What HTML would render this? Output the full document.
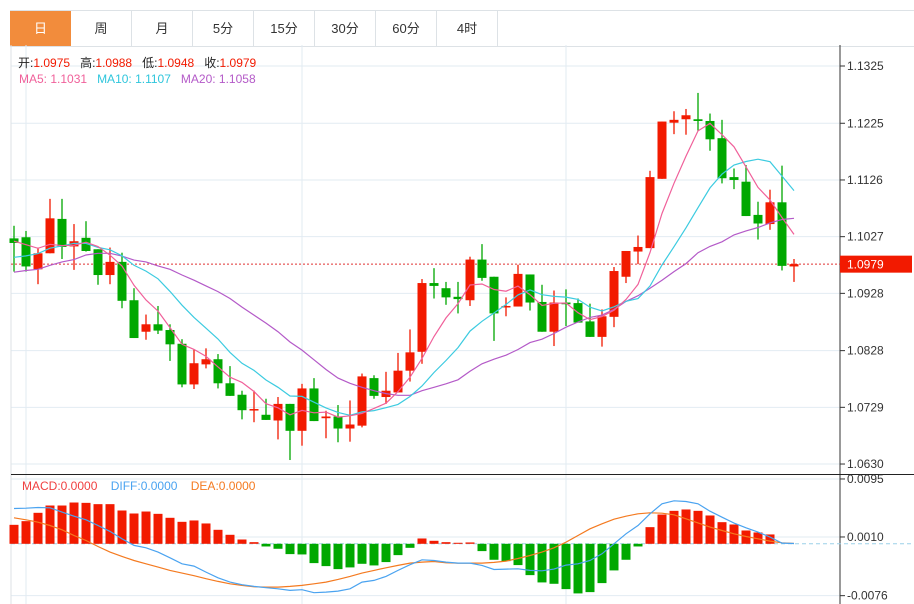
<!DOCTYPE html>
<html><head><meta charset="utf-8"><style>
body{margin:0;width:914px;height:604px;overflow:hidden;background:#fff;font-family:"Liberation Sans","Noto Sans CJK SC",sans-serif;}
#tabs{position:absolute;left:10px;top:10px;height:35px;width:904px;border-top:1px solid #dde2e6;border-bottom:1px solid #dde2e6;}
.tab{position:absolute;top:0;height:35px;line-height:35px;text-align:center;font-size:13px;color:#333;border-right:1px solid #dde2e6;box-sizing:border-box;}
.tab.on{background:#f28c3c;color:#fff;border-right:none;}
.lg{position:absolute;font-size:12px;white-space:nowrap;}
svg{position:absolute;left:0;top:0;}
</style></head><body>
<div id="tabs">
<div class="tab on" style="left:0;width:61px">日</div>
<div class="tab" style="left:61px;width:61px">周</div>
<div class="tab" style="left:122px;width:61px">月</div>
<div class="tab" style="left:183px;width:61px">5分</div>
<div class="tab" style="left:244px;width:61px">15分</div>
<div class="tab" style="left:305px;width:61px">30分</div>
<div class="tab" style="left:366px;width:61px">60分</div>
<div class="tab" style="left:427px;width:61px">4时</div>
</div>
<svg id="chart" width="914" height="604"></svg>
<div class="lg" style="left:18px;top:54px"><span style="color:#222">开:</span><span style="color:#f21a00">1.0975</span>&nbsp;&nbsp;&nbsp;<span style="color:#222">高:</span><span style="color:#f21a00">1.0988</span>&nbsp;&nbsp;&nbsp;<span style="color:#222">低:</span><span style="color:#f21a00">1.0948</span>&nbsp;&nbsp;&nbsp;<span style="color:#222">收:</span><span style="color:#f21a00">1.0979</span></div>
<div class="lg" style="left:19px;top:72px"><span style="color:#f0609a">MA5: 1.1031</span>&nbsp;&nbsp;&nbsp;<span style="color:#2fc6dc">MA10: 1.1107</span>&nbsp;&nbsp;&nbsp;<span style="color:#b45ac8">MA20: 1.1058</span></div>
<div class="lg" style="left:22px;top:479px"><span style="color:#f04040">MACD:0.0000</span>&nbsp;&nbsp;&nbsp;&nbsp;<span style="color:#4aa3f0">DIFF:0.0000</span>&nbsp;&nbsp;&nbsp;&nbsp;<span style="color:#f47a20">DEA:0.0000</span></div>
<script>
const openP=[1.1024,1.1026,1.0970,1.0998,1.1058,1.1010,1.1025,1.1005,1.0960,1.0983,1.0916,1.0861,1.0874,1.0864,1.0840,1.0769,1.0804,1.0813,1.0771,1.0751,1.0724,1.0716,1.0706,1.0735,1.0688,1.0762,1.0710,1.0713,1.0692,1.0697,1.0780,1.0747,1.0755,1.0793,1.0826,1.0946,1.0937,1.0922,1.0916,1.0987,1.0957,1.0904,1.0905,1.0961,1.0913,1.0861,1.0912,1.0911,1.0879,1.0852,1.0887,1.0957,1.1001,1.1007,1.1128,1.1226,1.1232,1.1232,1.1229,1.1199,1.1131,1.1123,1.1065,1.1049,1.1087,1.0975];
const highP=[1.1046,1.1037,1.1008,1.1093,1.1093,1.1049,1.1054,1.1005,1.1008,1.0999,1.0937,1.0891,1.0906,1.0874,1.0848,1.0830,1.0832,1.0822,1.0801,1.0758,1.0758,1.0744,1.0747,1.0735,1.0770,1.0780,1.0723,1.0733,1.0741,1.0788,1.0785,1.0791,1.0824,1.0865,1.0953,1.0972,1.0948,1.0948,1.0992,1.1014,1.0957,1.0921,1.0978,1.0961,1.0943,1.0933,1.0935,1.0919,1.0910,1.0900,1.0974,1.1002,1.1029,1.1142,1.1228,1.1246,1.1250,1.1278,1.1242,1.1231,1.1146,1.1152,1.1088,1.1109,1.1151,1.0988];
const lowP=[1.0966,1.0966,1.0944,1.0998,1.0988,1.0969,1.1001,1.0943,1.0944,1.0902,1.0850,1.0847,1.0857,1.0810,1.0764,1.0761,1.0797,1.0762,1.0749,1.0708,1.0703,1.0707,1.0673,1.0637,1.0662,1.0705,1.0675,1.0668,1.0669,1.0694,1.0744,1.0735,1.0755,1.0774,1.0805,1.0919,1.0908,1.0893,1.0906,1.0950,1.0845,1.0888,1.0905,1.0898,1.0861,1.0836,1.0871,1.0877,1.0852,1.0835,1.0869,1.0946,1.0979,1.1007,1.1128,1.1206,1.1205,1.1212,1.1177,1.1120,1.1110,1.1063,1.1022,1.1039,1.0968,1.0948];
const closeP=[1.1016,1.0975,1.0998,1.1059,1.1009,1.1019,1.1002,1.0960,1.0983,1.0915,1.0850,1.0874,1.0863,1.0839,1.0769,1.0806,1.0813,1.0771,1.0749,1.0724,1.0726,1.0707,1.0735,1.0688,1.0762,1.0705,1.0713,1.0692,1.0699,1.0783,1.0749,1.0758,1.0793,1.0825,1.0946,1.0941,1.0921,1.0918,1.0987,1.0955,1.0893,1.0906,1.0962,1.0912,1.0861,1.0912,1.0909,1.0877,1.0852,1.0888,1.0967,1.1002,1.1009,1.1131,1.1228,1.1231,1.1239,1.1229,1.1197,1.1129,1.1126,1.1063,1.1050,1.1087,1.0976,1.0979];
const priorCloses=[1.0950,1.0958,1.0965,1.0970,1.0972,1.1005,1.1030,1.1024,1.1020];
const ma20=[1.0965,1.0968,1.0970,1.0977,1.0983,1.0987,1.0995,1.0998,1.0998,1.0993,1.0986,1.0983,1.0976,1.0970,1.0960,1.0951,1.0941,1.0931,1.0919,1.0904,1.0890,1.0876,1.0861,1.0843,1.0829,1.0812,1.0795,1.0780,1.0771,1.0764,1.0758,1.0753,1.0750,1.0750,1.0758,1.0764,1.0770,1.0777,1.0792,1.0805,1.0813,1.0820,1.0830,1.0842,1.0848,1.0858,1.0869,1.0878,1.0886,1.0890,1.0900,1.0914,1.0924,1.0937,1.0951,1.0966,1.0980,1.0999,1.1010,1.1018,1.1030,1.1037,1.1043,1.1051,1.1057,1.1059];
// MACD panel values in units of 0.0001
const macdHist=[27.8,33.2,45.4,56.1,56.1,60.5,60.0,58.1,58.1,48.8,44.4,47.3,43.9,38.1,32.2,34.2,29.8,20.5,13.2,6.3,2.4,-3.9,-7.3,-15.1,-15.6,-28.3,-32.7,-37.1,-34.6,-29.3,-31.7,-26.8,-16.6,-5.9,7.8,4.4,2.4,1.5,2.0,-10.7,-23.4,-25.4,-31.2,-45.9,-56.6,-58.6,-66.4,-72.7,-70.8,-57.6,-39.0,-23.4,-3.9,24.4,42.9,48.3,50.3,48.3,41.5,31.7,28.3,19.5,16.6,13.7,0,0];
const diffVals=[51.7,52.2,53.2,52.7,46.4,40.5,35.1,26.8,18.1,7.3,-2.4,-5.9,-12.2,-20.5,-29.3,-32.7,-41.5,-49.8,-56.1,-60.0,-62.5,-64.4,-65.9,-68.3,-67.3,-71.7,-70.8,-69.3,-65.9,-56.1,-53.7,-47.8,-39.0,-30.7,-23.4,-24.4,-26.8,-28.3,-28.3,-31.7,-37.6,-37.1,-36.6,-39.0,-39.5,-37.1,-31.2,-29.3,-24.4,-14.6,0,14.6,26.8,43.9,58.6,63.0,62.0,58.6,47.8,39.0,30.3,23.4,17.1,9.8,1.0,0.5];
const deaVals=[38.1,35.1,31.7,26.8,20.5,12.2,4.9,-3.9,-12.2,-18.5,-24.4,-29.3,-34.2,-39.0,-42.9,-46.8,-51.2,-55.1,-58.6,-61.0,-63.0,-63.4,-63.4,-62.5,-61.0,-58.6,-56.1,-52.2,-47.8,-42.9,-39.0,-35.1,-31.7,-28.3,-26.8,-25.9,-27.8,-28.3,-28.3,-28.3,-27.3,-25.4,-21.5,-17.1,-12.2,-5.9,2.4,12.2,22.0,29.3,36.1,40.5,43.9,45.4,44.9,42.5,36.6,30.7,24.4,19.5,14.6,10.7,7.3,3.9,1.5,0.5];
const priceTicks=[1.1325,1.1225,1.1126,1.1027,1.0928,1.0828,1.0729,1.0630];
const macdTicks=[95,10,-76];
const lastPrice=1.0979;

const svg=document.getElementById('chart');
const NS='http://www.w3.org/2000/svg';
function mk(t,a,parent){const e=document.createElementNS(NS,t);for(const k in a)e.setAttribute(k,a[k]);(parent||svg).appendChild(e);return e;}
const xS=i=>14+12*i;
const yP=p=>66+(1.1325-p)*5727;
const yM=v=>543.8-v*0.0001*6824;
const PL=11,PR=840;
priceTicks.forEach(t=>{const l=mk('line',{x1:PL,x2:PR,y1:yP(t),y2:yP(t),stroke:'#e2ebf2','stroke-width':1});

});
macdTicks.forEach(t=>{const l=mk('line',{x1:PL,x2:PR,y1:yM(t),y2:yM(t),stroke:'#e2ebf2','stroke-width':1});

});
[26,302,566].forEach(x=>{const l=mk('line',{x1:x,x2:x,y1:45,y2:604,stroke:'#e2ebf2','stroke-width':1});

});
mk('line',{x1:PL,x2:PL,y1:45,y2:604,stroke:'#dde2e6'});
mk('line',{x1:PR,x2:PR,y1:45,y2:604,stroke:'#333'});
mk('line',{x1:PL,x2:914,y1:474.5,y2:474.5,stroke:'#222'});
priceTicks.forEach(t=>{mk('line',{x1:PR,x2:PR+5,y1:yP(t),y2:yP(t),stroke:'#333'});
const tx=mk('text',{x:847,y:yP(t)+4,'font-size':12,fill:'#333','font-family':'Liberation Sans'});tx.textContent=t.toFixed(4);

});
macdTicks.forEach(t=>{mk('line',{x1:PR,x2:PR+5,y1:yM(t),y2:yM(t),stroke:'#333'});
const tx=mk('text',{x:847,y:yM(t)+4,'font-size':12,fill:'#333','font-family':'Liberation Sans'});tx.textContent=(t/10000).toFixed(4);

});
const lp=mk('line',{x1:PL,x2:PR,y1:yP(lastPrice),y2:yP(lastPrice),stroke:'#e03030','stroke-dasharray':'2,2'});


const tag=mk('rect',{x:PR,y:yP(lastPrice)-8.5,width:72,height:17,fill:'#f21a00'});


const tt=mk('text',{x:847,y:yP(lastPrice)+4.5,'font-size':12,fill:'#fff','font-family':'Liberation Sans'});tt.textContent=lastPrice.toFixed(4);
const RED='#f21a00',GRN='#00a800';
for(let i=0;i<openP.length;i++){
 const up=closeP[i]>=openP[i];const c=up?RED:GRN;const x=xS(i);
 const g=mk('g',{});
 
 
 mk('line',{x1:x,x2:x,y1:yP(highP[i]),y2:yP(lowP[i]),stroke:c,'stroke-width':1.3},g);
 const t=yP(Math.max(openP[i],closeP[i])),b=yP(Math.min(openP[i],closeP[i]));
 mk('rect',{x:x-4.5,y:t,width:9,height:Math.max(b-t,1.5),fill:c},g);
}
const allC=priorCloses.concat(closeP);
function ma(n){const r=[];for(let i=0;i<closeP.length;i++){const j=i+priorCloses.length;let s=0;for(let k=j-n+1;k<=j;k++)s+=allC[k];r.push(s/n);}return r;}
const ma5=ma(5),ma10=ma(10);
function line(vals,ys,color,name){const pts=vals.map((v,i)=>xS(i)+','+ys(v).toFixed(1)).join(' ');
 const p=mk('polyline',{points:pts,fill:'none',stroke:color,'stroke-width':1.2});
 
 }
line(ma20,yP,'#b45ac8','ma20-line');
line(ma10,yP,'#3ccbe0','ma10-line');
line(ma5,yP,'#f0609a','ma5-line');
const z=mk('line',{x1:PL,x2:914,y1:yM(0),y2:yM(0),stroke:'#9cd0e8','stroke-dasharray':'4,3'});


macdHist.forEach((v,i)=>{const y0=yM(0),y1=yM(v);
 const r=mk('rect',{x:xS(i)-4.5,y:Math.min(y0,y1),width:9,height:Math.abs(y1-y0),fill:v>=0?RED:GRN});
 
 });
line(deaVals,yM,'#f47a20','dea-line');
line(diffVals,yM,'#4aa3f0','diff-line');
</script>
</body></html>
